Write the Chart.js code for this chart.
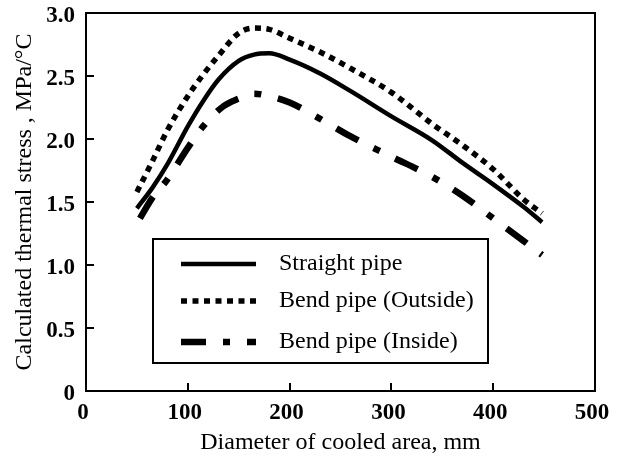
<!DOCTYPE html>
<html>
<head>
<meta charset="utf-8">
<script src="https://cdn.jsdelivr.net/npm/chart.js@4/dist/chart.umd.min.js"></script>
<style>
  html, body { margin: 0; padding: 0; background: #fff; }
  #wrap { width: 622px; height: 457px; }
</style>
</head>
<body>
<div id="wrap"><canvas id="c" width="622" height="457"></canvas></div>
<script>
// ---- data ----
const seriesLabels = ["Straight pipe", "Bend pipe (Outside)", "Bend pipe (Inside)"];

const straightX = [50, 65, 80, 100, 115, 130, 150, 165, 180, 200, 230, 260, 300, 340, 370, 400, 430, 448];
const straightY = [1.45, 1.61, 1.80, 2.10, 2.30, 2.47, 2.62, 2.67, 2.68, 2.63, 2.52, 2.38, 2.18, 1.99, 1.81, 1.64, 1.46, 1.34];

const outsideX = [50, 65, 80, 100, 115, 130, 150, 165, 180, 200, 230, 260, 300, 340, 370, 400, 430, 448];
const outsideY = [1.58, 1.82, 2.07, 2.34, 2.51, 2.66, 2.84, 2.88, 2.87, 2.80, 2.69, 2.56, 2.37, 2.12, 1.95, 1.76, 1.52, 1.41];

const insideX = [53, 65, 80, 100, 115, 135, 150, 165, 180, 200, 230, 260, 300, 340, 370, 400, 430, 448];
const insideY = [1.37, 1.53, 1.68, 1.93, 2.10, 2.26, 2.32, 2.36, 2.34, 2.29, 2.16, 2.02, 1.86, 1.70, 1.55, 1.37, 1.19, 1.08];

const xTicks = [0, 100, 200, 300, 400, 500];
const yTicks = [0, 0.5, 1.0, 1.5, 2.0, 2.5, 3.0];

const xTitle = "Diameter of cooled area, mm";
const yTitle = "Calculated thermal stress , MPa/°C";

// ---- chart ----
const FONT = "'Liberation Serif', 'Times New Roman', serif";
const toPts = (xs, ys) => xs.map((x, i) => ({ x: x, y: ys[i] }));

const styles = [
  { borderWidth: 4.5, borderDash: [] },
  { borderWidth: 5.5, borderDash: [6, 5.5] },
  { borderWidth: 6.5, borderDash: [25, 17, 7, 17] }
];

const datasets = [
  { label: seriesLabels[0], data: toPts(straightX, straightY) },
  { label: seriesLabels[1], data: toPts(outsideX, outsideY) },
  { label: seriesLabels[2], data: toPts(insideX, insideY) }
].map((d, i) => Object.assign(d, {
  borderColor: '#000',
  backgroundColor: '#000',
  borderWidth: styles[i].borderWidth,
  borderDash: styles[i].borderDash,
  borderCapStyle: 'butt',
  borderJoinStyle: 'miter',
  pointRadius: 0,
  fill: false,
  cubicInterpolationMode: 'monotone'
}));

const framePlugin = {
  id: 'frameAndTicks',
  afterDraw(chart) {
    const { ctx, chartArea: a, scales } = chart;
    ctx.save();
    ctx.strokeStyle = '#000';
    ctx.lineWidth = 2;
    ctx.setLineDash([]);
    ctx.lineCap = 'butt';
    ctx.beginPath();
    ctx.moveTo(a.left, a.top);
    ctx.lineTo(a.right, a.top);
    ctx.lineTo(a.right, a.bottom);
    ctx.stroke();
    // inward tick marks
    const tl = 8;
    ctx.beginPath();
    xTicks.forEach(v => {
      if (v <= scales.x.min || v >= scales.x.max) return;
      const px = Math.round(scales.x.getPixelForValue(v));
      ctx.moveTo(px, a.bottom);
      ctx.lineTo(px, a.bottom - tl);
    });
    yTicks.forEach(v => {
      if (v <= scales.y.min || v >= scales.y.max) return;
      const py = Math.round(scales.y.getPixelForValue(v));
      ctx.moveTo(a.left, py);
      ctx.lineTo(a.left + tl, py);
    });
    ctx.stroke();

    // legend box inside the plot
    const box = { l: 153, t: 239, r: 488, b: 363 };
    const rows = [264, 301, 342];
    ctx.fillStyle = '#fff';
    ctx.fillRect(box.l, box.t, box.r - box.l, box.b - box.t);
    ctx.strokeStyle = '#000';
    ctx.lineWidth = 2;
    ctx.strokeRect(box.l, box.t, box.r - box.l, box.b - box.t);
    chart.data.datasets.forEach((ds, i) => {
      const y = rows[i];
      ctx.beginPath();
      ctx.lineWidth = ds.borderWidth;
      ctx.setLineDash(ds.borderDash);
      ctx.lineCap = 'butt';
      ctx.moveTo(181, y);
      ctx.lineTo(256, y);
      ctx.stroke();
      ctx.setLineDash([]);
      ctx.fillStyle = '#000';
      ctx.font = "24px " + FONT;
      ctx.textBaseline = 'middle';
      ctx.textAlign = 'left';
      ctx.fillText(ds.label, 279, y);
    });
    ctx.restore();
  }
};

new Chart(document.getElementById('c'), {
  type: 'line',
  data: { datasets: datasets },
  plugins: [framePlugin],
  options: {
    responsive: false,
    animation: false,
    devicePixelRatio: 1,
    layout: { padding: { left: 0, top: 13, right: 27, bottom: 0 } },
    plugins: { legend: { display: false }, tooltip: { enabled: false } },
    scales: {
      x: {
        type: 'linear',
        min: xTicks[0],
        max: xTicks[xTicks.length - 1],
        afterBuildTicks: s => { s.ticks = xTicks.map(v => ({ value: v })); },
        afterFit: s => { s.height = 66; s.paddingLeft = 0; s.paddingRight = 0; },
        grid: { display: false, drawTicks: false },
        border: { display: true, color: '#000', width: 2 },
        ticks: {
          autoSkip: false,
          maxRotation: 0,
          padding: 8,
          labelOffset: -3,
          color: '#000',
          font: { family: FONT, size: 23, weight: 'bold' },
          callback: v => String(v)
        },
        title: {
          display: true,
          text: xTitle,
          color: '#000',
          font: { family: FONT, size: 24 },
          padding: { top: 0, bottom: 0 }
        }
      },
      y: {
        type: 'linear',
        min: yTicks[0],
        max: yTicks[yTicks.length - 1],
        afterBuildTicks: s => { s.ticks = yTicks.map(v => ({ value: v })); },
        afterFit: s => { s.width = 86; s.paddingTop = 0; s.paddingBottom = 0; },
        grid: { display: false, drawTicks: false },
        border: { display: true, color: '#000', width: 2 },
        ticks: {
          autoSkip: false,
          padding: 11,
          labelOffset: 3,
          color: '#000',
          font: { family: FONT, size: 23, weight: 'bold' },
          callback: v => (v === 0 ? '0' : v.toFixed(1))
        },
        title: {
          display: true,
          text: yTitle,
          color: '#000',
          font: { family: FONT, size: 24 },
          padding: { top: 10, bottom: 0 }
        }
      }
    }
  }
});
</script>
</body>
</html>
